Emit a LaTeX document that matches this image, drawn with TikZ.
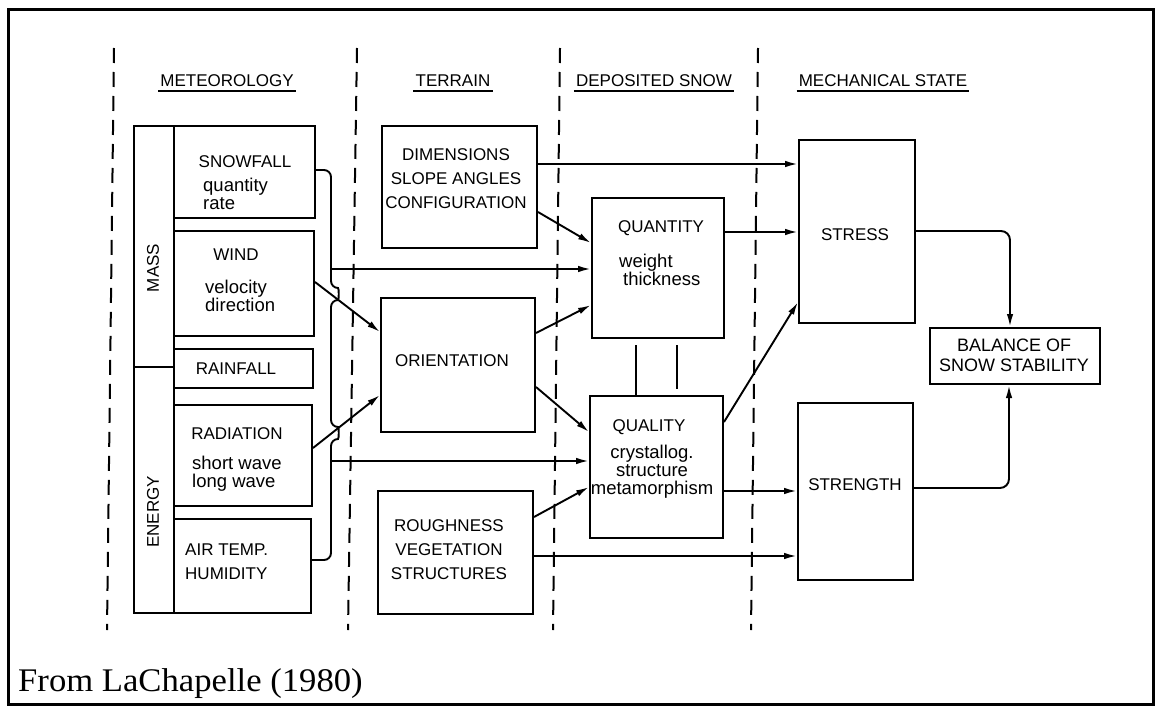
\documentclass[tikz,border=0pt]{standalone}
\usepackage{fontspec}
\setmainfont{Liberation Serif}
\newfontfamily\lett{Liberation Sans}
\newfontfamily\capfont[FakeStretch=1.05]{Liberation Serif}
\usetikzlibrary{arrows.meta,calc}
\tikzset{
  box/.style={draw, line width=2pt, inner sep=0pt, anchor=north west},
  ln/.style={line width=1.9pt},
  arr/.style={line width=1.9pt, -{Latex[length=13pt,width=6.5pt]}},
  dsh/.style={line width=2pt, dash pattern=on 15pt off 9pt},
  capt/.style={font=\lett\fontsize{17}{24}\selectfont, inner sep=0pt},
  lowt/.style={font=\lett\fontsize{18.5}{18}\selectfont, inner sep=0pt},
  hdr/.style={font=\lett\fontsize{17}{20}\selectfont, inner sep=0pt, anchor=base},
}
\begin{document}
\begin{tikzpicture}[x=1pt,y=-1pt]
\useasboundingbox (0,0) rectangle (1155,706);
% frame
\draw[line width=3pt] (8,10) rectangle (1153,704);
% dashed column separators
\coordinate (d1t) at (114,48); \coordinate (d1b) at (107,630);
\coordinate (d2t) at (357,48); \coordinate (d2b) at (348,630);
\coordinate (d3t) at (560,48); \coordinate (d3b) at (553,630);
\coordinate (d4t) at (758,48); \coordinate (d4b) at (751,630);
\draw[dsh] (d1t) -- (d1b);
\draw[dsh] (d2t) -- (d2b);
\draw[dsh] (d3t) -- (d3b);
\draw[dsh] (d4t) -- (d4b);
% headers
\node[hdr] (hmet) at (227,87) {METEOROLOGY};
\node[hdr] (hter) at (453,87) {TERRAIN};
\node[hdr] (hdep) at (654,87) {DEPOSITED SNOW};
\node[hdr] (hmec) at (883,87) {MECHANICAL STATE};
\foreach \h in {hmet,hter,hdep,hmec}
  \draw[line width=1.7pt] ($(\h.base west)+(-2,4)$) -- ($(\h.base east)+(2,4)$);
% meteorology column
\node[box, minimum width=40pt, minimum height=487pt] (col) at (133,125) {};
\draw[ln] (col.west |- 0,367) coordinate (mdl) -- (mdl -| col.east);
\node[capt, rotate=90] (mass) at (153,268) {MASS};
\node[capt, rotate=90] (energy) at (153,512) {ENERGY};
\node[box, minimum width=141pt, minimum height=92pt] (snow) at (173,125) {};
\node[box, minimum width=140pt, minimum height=105pt] (wind) at (173,230) {};
\node[box, minimum width=139pt, minimum height=39pt] (rain) at (173,348) {};
\node[box, minimum width=138pt, minimum height=101pt] (rad) at (173,404) {};
\node[box, minimum width=137pt, minimum height=94pt] (air) at (173,518) {};
\node[capt, anchor=base] (tsnow) at (245,167) {SNOWFALL};
\node[lowt, anchor=base west, align=left] (tsnow2) at (203,209) {quantity\\rate};
\node[capt, anchor=base] (twind) at (236,260) {WIND};
\node[lowt, anchor=base west, align=left] (twind2) at (205,311) {velocity\\direction};
\node[capt, anchor=base] (train) at (236,374) {RAINFALL};
\node[capt, anchor=base] (trad) at (237,439) {RADIATION};
\node[lowt, anchor=base west, align=left] (trad2) at (192,487) {short wave\\long wave};
\node[capt, anchor=base west, align=left] (tair) at (185,579) {AIR TEMP.\\HUMIDITY};
% terrain
\node[box, minimum width=155pt, minimum height=122pt] (dim) at (381,125) {};
\node[box, minimum width=154pt, minimum height=134pt] (ori) at (380,297) {};
\node[box, minimum width=155pt, minimum height=123pt] (rough) at (377,490) {};
\node[capt, anchor=base, align=center] (tdim) at (456,208) {DIMENSIONS\\SLOPE ANGLES\\CONFIGURATION};
\node[capt, anchor=base] (tori) at (452,366) {ORIENTATION};
\node[capt, anchor=base, align=center] (trough) at (449,579) {ROUGHNESS\\VEGETATION\\STRUCTURES};
% deposited snow
\node[box, minimum width=132pt, minimum height=140pt] (qty) at (591,197) {};
\node[box, minimum width=133pt, minimum height=142pt] (qual) at (589,395) {};
\node[capt, anchor=base] (tqty) at (661,232) {QUANTITY};
\node[lowt, anchor=base west, align=left] (tqty2) at (619,285) {weight\\\hspace*{4pt}thickness};
\node[capt, anchor=base] (tqual) at (649,431) {QUALITY};
\node[lowt, anchor=base, align=center] (tqual2) at (652,494) {crystallog.\\structure\\metamorphism};
% mechanical state
\node[box, minimum width=116pt, minimum height=183pt] (stress) at (798,139) {};
\node[box, minimum width=115pt, minimum height=177pt] (strength) at (797,402) {};
\node[box, minimum width=170pt, minimum height=56pt] (bal) at (929,327) {};
\node[capt, anchor=base] (tstress) at (855,240) {STRESS};
\node[capt, anchor=base] (tstrength) at (855,490) {STRENGTH};
\node[capt, anchor=base, align=center, font=\lett\fontsize{18}{20}\selectfont] (tbal) at (1014,371) {BALANCE OF\\SNOW STABILITY};
% caption
\node[anchor=base west, inner sep=0pt, font=\capfont\fontsize{33}{36}\selectfont] (cap) at (18,691) {From LaChapelle (1980)};
% bracket from snowfall to air temp with hops
\coordinate (s1) at ($(snow.north east)+(0,45)$);
\coordinate (a1) at ($(air.north east)+(0,42)$);
\draw[ln, rounded corners=7pt] (s1) -- (331,170) -- (331,288)
  .. controls (339,288) and (339,300) .. (331,300) -- (331,427)
  .. controls (339,427) and (339,439) .. (331,439) -- (331,560) -- (a1);
\coordinate (b1) at (331,269);
\coordinate (b2) at (331,461);
\draw[arr] (b1) -- (b1 -| qty.west);
\draw[arr] (b2) -- (b2 -| qual.west);
% meteorology to orientation
\draw[arr] ($(wind.north east)+(0,52)$) -- ($(ori.north west)+(0,35)$);
\draw[arr] ($(rad.north east)+(0,44)$) -- ($(ori.north west)+(0,98)$);
% terrain connectors
\coordinate (dm) at ($(dim.north east)+(0,39)$);
\draw[arr] (dm) -- (dm -| stress.west);
\draw[arr] ($(dim.north east)+(0,87)$) -- ($(qty.north west)+(0,46)$);
\draw[arr] ($(ori.north east)+(0,36)$) -- ($(qty.north west)+(0,108)$);
\draw[arr] ($(ori.north east)+(0,90)$) -- ($(qual.north west)+(0,37)$);
\draw[arr] ($(rough.north east)+(0,27)$) -- ($(qual.north west)+(0,92)$);
\coordinate (rm) at ($(rough.north east)+(0,66)$);
\draw[arr] (rm) -- (rm -| strength.west);
% deposited snow connectors
\draw[ln] ($(qty.south west)+(45,6)$) -- ($(qual.north west)+(47,0)$);
\draw[ln] ($(qty.south west)+(86,6)$) -- ($(qual.north west)+(88,-6)$);
\coordinate (qm) at ($(qty.north east)+(0,35)$);
\draw[arr] (qm) -- (qm -| stress.west);
\draw[arr] ($(qual.north east)+(0,27)$) -- ($(stress.south west)+(0,-22)$);
\coordinate (ql) at ($(qual.north east)+(0,96)$);
\draw[arr] (ql) -- (ql -| strength.west);
% to balance
\coordinate (bt) at ($(bal.north west)+(81,0)$);
\coordinate (bb) at ($(bal.south west)+(80,0)$);
\draw[arr, rounded corners=9pt] ($(stress.north east)+(0,92)$) -| (bt);
\draw[arr, rounded corners=9pt] ($(strength.north east)+(0,86)$) -| (bb);
\end{tikzpicture}
\end{document}
